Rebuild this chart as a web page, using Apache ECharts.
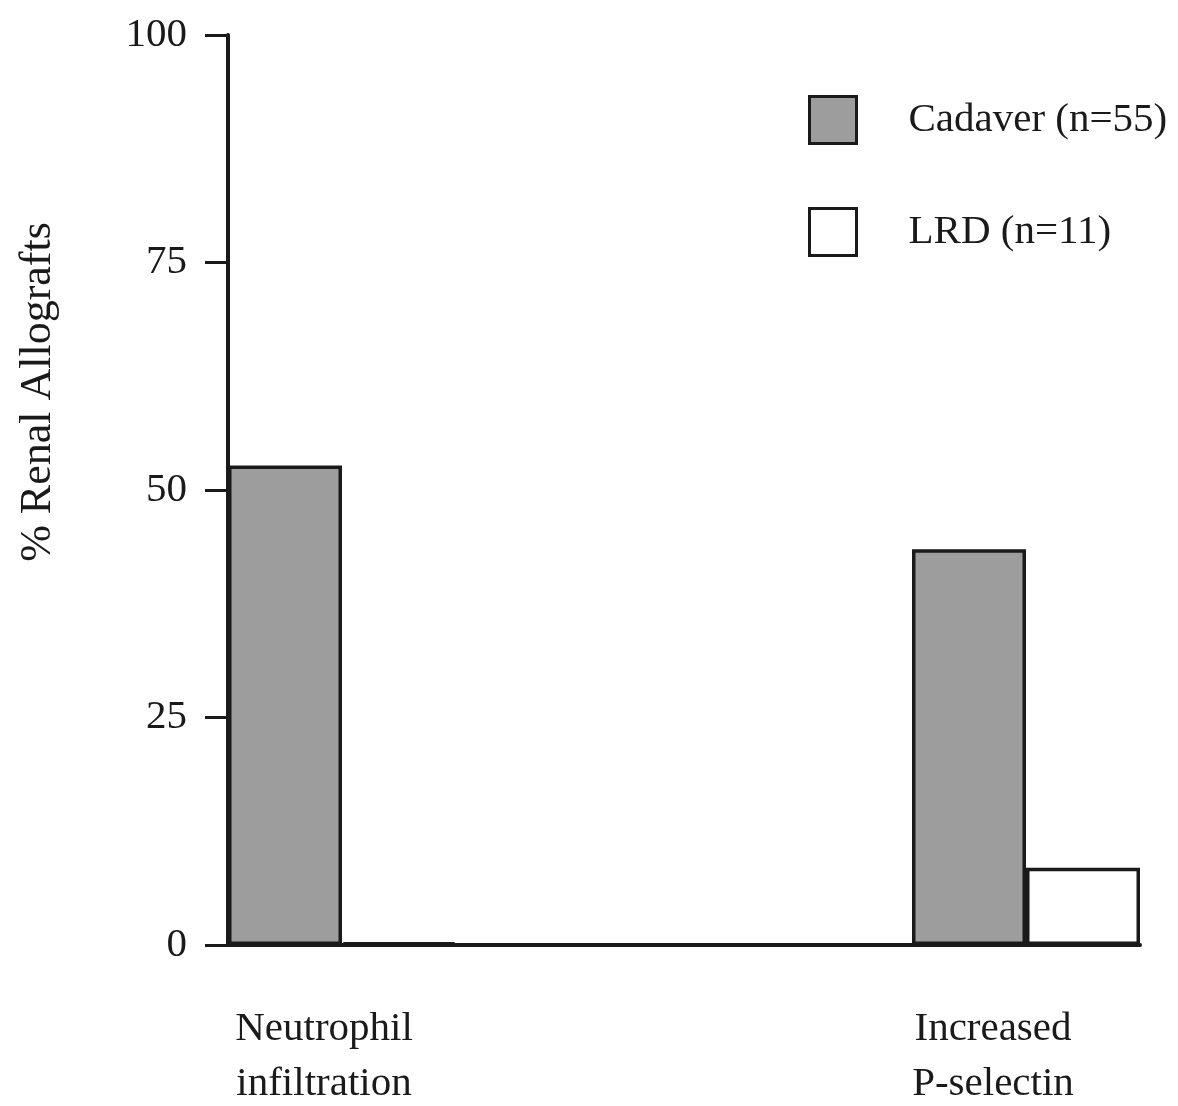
<!DOCTYPE html>
<html>
<head>
<meta charset="utf-8">
<script src="https://cdn.jsdelivr.net/npm/echarts@6/dist/echarts.min.js"></script>
<style>
  html, body { margin: 0; padding: 0; background: #fff; }
  #renal_chart { width: 1178px; height: 1106px; }
</style>
</head>
<body>
<div id="renal_chart"></div>
<script>
  const categories = ['Neutrophil\ninfiltration', 'Increased\nP-selectin'];
  const cadaver = [52.7, 43.5];
  const lrd = [0.3, 8.5];
  const seriesNames = ['Cadaver (n=55)', 'LRD (n=11)'];
  const yTicks = [0, 25, 50, 75, 100];

  // the two groups sit at the outer edges of the axis, so two empty slots go between them
  const labelShift = [36, 66];
  const axisData = [];
  const cadData = [];
  const lrdData = [];
  categories.forEach((c, i) => {
    axisData.push({value: c, textStyle: {padding: [0, labelShift[i], 0, 0]}});
    cadData.push(cadaver[i]);
    lrdData.push(lrd[i]);
    if (i === 0) {
      axisData.push('', '');
      cadData.push(null, null);
      lrdData.push(null, null);
    }
  });

  const font = '"Liberation Serif", "DejaVu Serif", serif';
  const ink = '#1a1a1a';

  const option = {
    animation: false,
    backgroundColor: '#fff',
    textStyle: {fontFamily: font},
    grid: {
      left: 228,
      right: 38,
      top: 35,
      bottom: 161,
      outerBoundsMode: 'none',
      containLabel: false
    },
    legend: {
      orient: 'vertical',
      left: 808,
      top: 95,
      padding: 0,
      icon: 'rect',
      itemWidth: 47,
      itemHeight: 47,
      itemGap: 62,
      itemStyle: {borderColor: ink, borderWidth: 3},
      textStyle: {
        fontFamily: font,
        fontSize: 41,
        color: ink,
        padding: [0, 0, 0, 47]
      },
      data: seriesNames
    },
    xAxis: {
      type: 'category',
      data: axisData,
      axisLine: {lineStyle: {color: ink, width: 4}},
      axisTick: {show: false},
      axisLabel: {
        interval: 0,
        margin: 57,
        fontFamily: font,
        fontSize: 41,
        lineHeight: 55,
        color: ink
      }
    },
    yAxis: {
      type: 'value',
      min: yTicks[0],
      max: yTicks[yTicks.length - 1],
      interval: yTicks[1] - yTicks[0],
      splitLine: {show: false},
      axisLine: {show: true, lineStyle: {color: ink, width: 4}},
      axisTick: {show: true, length: 23, lineStyle: {color: ink, width: 3}},
      axisLabel: {
        margin: 41,
        fontFamily: font,
        fontSize: 41,
        color: ink
      }
    },
    graphic: [{
      type: 'text',
      x: 38,
      y: 392,
      rotation: Math.PI / 2,
      style: {
        text: '% Renal Allografts',
        font: '44px ' + font,
        fill: ink,
        align: 'center',
        verticalAlign: 'middle'
      }
    }],
    series: [
      {
        name: seriesNames[0],
        type: 'bar',
        data: cadData,
        barGap: '0%',
        barCategoryGap: '0%',
        itemStyle: {color: '#9d9d9d', borderColor: ink, borderWidth: 3.5}
      },
      {
        name: seriesNames[1],
        type: 'bar',
        data: lrdData,
        itemStyle: {color: '#fff', borderColor: ink, borderWidth: 3.5}
      }
    ]
  };

  const chart = echarts.init(document.getElementById('renal_chart'));
  chart.setOption(option);
  window.addEventListener('resize', function () {
    chart.resize();
  });
</script>
</body>
</html>
